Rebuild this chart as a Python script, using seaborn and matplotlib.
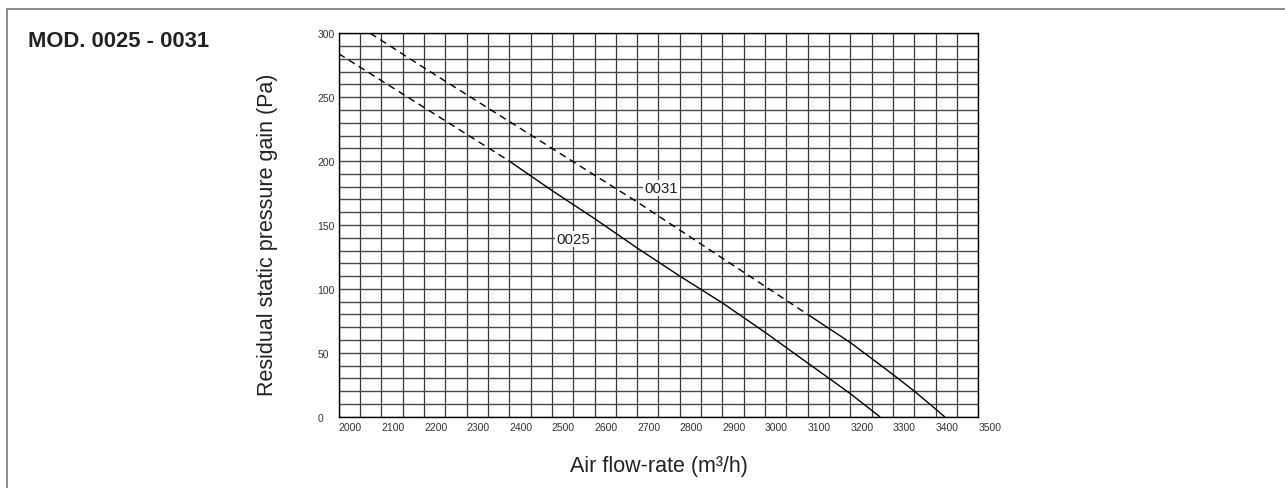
import numpy as np
import matplotlib
matplotlib.use("Agg")
import matplotlib.pyplot as plt
from matplotlib.lines import Line2D
from matplotlib.ticker import MultipleLocator
import seaborn as sns

# Curve data (air flow m3/h -> pressure Pa)
flow_0025_dash = [2000, 2100, 2200, 2300, 2400]
pa_0025_dash = [284, 263, 242, 221, 200]
flow_0025_solid = [2400, 2500, 2600, 2700, 2800, 2900, 3000, 3050, 3100, 3150, 3200, 3269]
pa_0025_solid = [200, 177, 155, 132, 110, 89, 66, 54, 42, 30, 18, 0]

flow_0031_dash = [2074, 2200, 2300, 2400, 2500, 2600, 2700, 2800, 2900, 3000, 3100]
pa_0031_dash = [300, 273, 252, 231, 210, 189, 168, 146, 124, 102, 80]
flow_0031_solid = [3100, 3150, 3200, 3250, 3300, 3350, 3400, 3421]
pa_0031_solid = [80, 69, 58, 45.5, 33, 20, 6, 0]

curve_labels = ["0025", "0031"]
label_pos = [(2550, 139), (2757, 179)]

x_ticks = list(range(2000, 3501, 100))
y_ticks = list(range(0, 301, 50))

sns.set_style("white")
plt.rcParams['font.family'] = ['Liberation Sans', 'DejaVu Sans']

fig = plt.figure(figsize=(12.85, 4.89), dpi=100)
ax = fig.add_axes([0.2636, 0.1458, 0.4977, 0.7841])

dash_style = (0, (5, 3.5))
sns.lineplot(x=flow_0025_dash, y=pa_0025_dash, color='black', lw=1.0,
             linestyle=dash_style, ax=ax)
sns.lineplot(x=flow_0025_solid, y=pa_0025_solid, color='black', lw=1.0, ax=ax)
sns.lineplot(x=flow_0031_dash, y=pa_0031_dash, color='black', lw=1.0,
             linestyle=dash_style, ax=ax)
sns.lineplot(x=flow_0031_solid, y=pa_0031_solid, color='black', lw=1.0, ax=ax)

for txt, (px, py) in zip(curve_labels, label_pos):
    ax.text(px, py, txt, ha='center', va='center', fontsize=10.8, color='#222222',
            bbox=dict(facecolor='white', edgecolor='none', pad=1.0), zorder=5)

ax.set_xlim(2000, 3500)
ax.set_ylim(0, 300)
ax.xaxis.set_minor_locator(MultipleLocator(50))
ax.yaxis.set_minor_locator(MultipleLocator(10))
ax.set_xticks(x_ticks)
ax.set_yticks(y_ticks)

ax.grid(True, which='both', axis='x', color='#3a3a3a', lw=0.9)
ax.grid(True, which='both', axis='y', color='#4a4a4a', lw=1.0)
ax.set_axisbelow(True)
for sp in ax.spines.values():
    sp.set_color('black')
    sp.set_linewidth(1.0)

ax.tick_params(axis='both', which='both', length=0, labelsize=7.5, colors='#333333')
ax.tick_params(axis='y', pad=15.5)
ax.tick_params(axis='x', pad=4)
plt.setp(ax.get_yticklabels(), ha='left')
plt.setp(ax.get_xticklabels(), ha='left')

ax.set_xlabel('Air flow-rate (m³/h)', fontsize=15.5, color='#222222')
ax.set_ylabel('Residual static pressure gain (Pa)', fontsize=15.5, color='#222222')
ax.xaxis.set_label_coords(0.5, -0.1)
ax.yaxis.set_label_coords(-0.095, 0.4765)

fig.text(28 / 1285, 1 - 46.7 / 489, 'MOD. 0025 - 0031', fontsize=15.8,
         fontweight='bold', color='#222222', va='baseline', ha='left')

# frame lines at top and left of the figure
fig.add_artist(Line2D([7 / 1285, 1.0], [1 - 10 / 489, 1 - 10 / 489],
                      transform=fig.transFigure, color='#7a7a7a', lw=1.2))
fig.add_artist(Line2D([7 / 1285, 7 / 1285], [0.0, 1 - 10 / 489],
                      transform=fig.transFigure, color='#7a7a7a', lw=1.2))

fig.savefig('out.png', dpi=100)
plt.close(fig)
